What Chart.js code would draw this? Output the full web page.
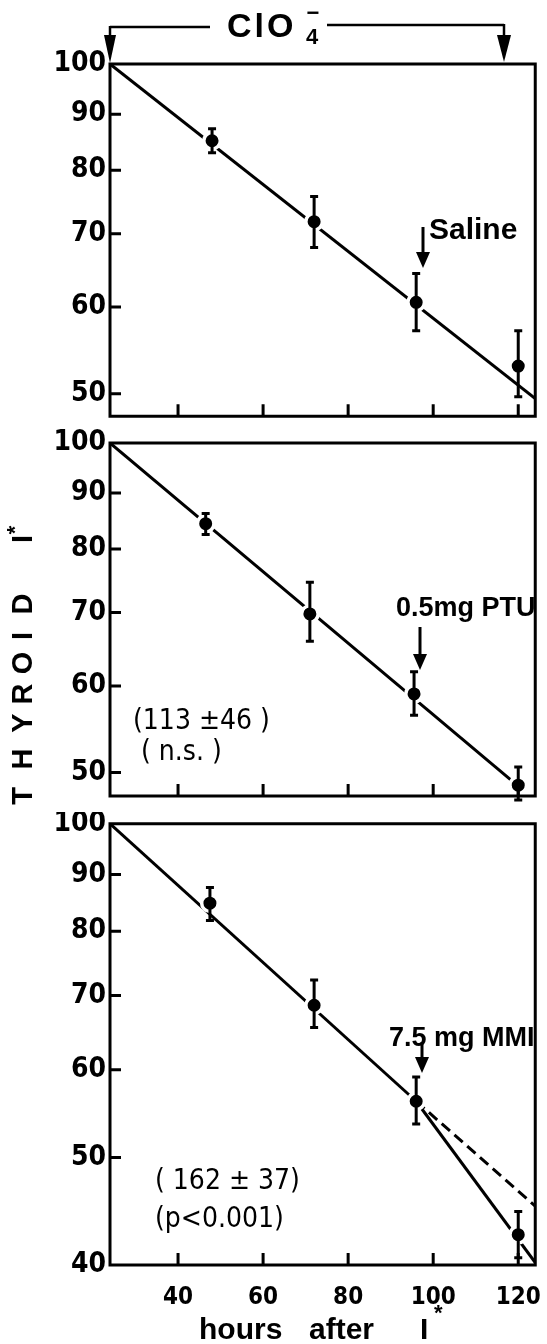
<!DOCTYPE html>
<html>
<head>
<meta charset="utf-8">
<script src="https://cdn.jsdelivr.net/npm/chart.js@4.4.1/dist/chart.umd.min.js"></script>
<style>
body { margin: 0; background: #fff; }
#wrap { position: relative; width: 547px; height: 1344px; }
canvas { position: absolute; left: 0; }
</style>
</head>
<body>
<div id="wrap">
<canvas id="c1" width="547" height="428" style="top:0px"></canvas>
<canvas id="c2" width="547" height="384" style="top:428px"></canvas>
<canvas id="c3" width="547" height="532" style="top:812px"></canvas>
</div>
<script>
// values (thyroid I*, log axis)
const salineHours = [48, 72, 96, 120];
const salineMean = [85.1, 71.8, 60.6, 53.0];
const salineHigh = [87.3, 75.7, 64.4, 57.1];
const salineLow = [83.0, 68.0, 57.1, 49.7];
const salineFitX = [24, 124];
const salineFitY = [100, 49.5];

const ptuHours = [46.5, 71, 95.5, 120];
const ptuMean = [84.4, 69.8, 59.0, 48.7];
const ptuHigh = [86.2, 74.6, 61.8, 50.6];
const ptuLow = [82.5, 65.9, 56.4, 47.2];
const ptuFitX = [24, 120];
const ptuFitY = [100, 48.6];

const mmiHours = [47.5, 72, 96, 120];
const mmiMean = [84.8, 68.6, 56.2, 42.6];
const mmiHigh = [87.6, 72.3, 59.1, 44.7];
const mmiLow = [81.8, 65.5, 53.6, 40.6];
const mmiFitX = [24, 96];
const mmiFitY = [100, 56.2];
const mmiExpectedX = [96, 124];
const mmiExpectedY = [56.2, 45.2];
const mmiAfterX = [96, 124];
const mmiAfterY = [56.2, 40.2];

const yTicksUpper = [50, 60, 70, 80, 90, 100];
const yTicksLower = [40, 50, 60, 70, 80, 90, 100];
const xTicks = [40, 60, 80, 100, 120];

const NARROW = "'Liberation Sans Narrow', 'DejaVu Sans Condensed', 'Liberation Sans', sans-serif";
const SANS = "'Liberation Sans', Arial, sans-serif";

function pts(xs, ys) {
    return xs.map((x, i) => ({ x: x, y: ys[i] }));
}

function arrowDown(ctx, x, y0, y1, headLen, headW) {
    ctx.beginPath();
    ctx.moveTo(x, y0);
    ctx.lineTo(x, y1 - headLen + 2);
    ctx.stroke();
    ctx.beginPath();
    ctx.moveTo(x - headW / 2, y1 - headLen);
    ctx.lineTo(x + headW / 2, y1 - headLen);
    ctx.lineTo(x, y1);
    ctx.closePath();
    ctx.fill();
}

// error bars, frame, inward ticks and the extra drawing of each panel
const panelPlugin = {
    id: 'panel',
    afterDatasetsDraw(chart, args, opts) {
        const ctx = chart.ctx;
        const xs = chart.scales.x, ys = chart.scales.y;
        const a = chart.chartArea;
        ctx.save();
        ctx.strokeStyle = '#000';
        ctx.fillStyle = '#000';
        ctx.lineWidth = 3;
        ctx.lineCap = 'butt';

        // error bars
        opts.hours.forEach((h, i) => {
            const px = xs.getPixelForValue(h);
            const top = ys.getPixelForValue(opts.high[i]);
            const bot = ys.getPixelForValue(opts.low[i]);
            ctx.beginPath();
            ctx.moveTo(px, top); ctx.lineTo(px, bot);
            ctx.moveTo(px - 4, top); ctx.lineTo(px + 4, top);
            ctx.moveTo(px - 4, bot); ctx.lineTo(px + 4, bot);
            ctx.stroke();
        });

        // frame
        ctx.strokeRect(a.left, a.top, a.right - a.left, a.bottom - a.top);

        // ticks pointing inwards
        ctx.beginPath();
        opts.yTicks.forEach(v => {
            const py = ys.getPixelForValue(v);
            if (py > a.top + 2 && py < a.bottom - 2) {
                ctx.moveTo(a.left, py); ctx.lineTo(a.left + 11, py);
            }
        });
        xTicks.forEach(v => {
            const px = xs.getPixelForValue(v);
            ctx.moveTo(px, a.bottom); ctx.lineTo(px, a.bottom - 12);
        });
        ctx.stroke();

        // page coordinates from here on
        ctx.translate(0, -opts.pageTop);
        opts.extra(ctx, xs, ys);
        ctx.restore();
    }
};

function makePanel(canvasId, pageTop, padTop, xAxisH, yMin, yMax, yTicks, showX, datasets, bars, extra) {
    const ctx = document.getElementById(canvasId).getContext('2d');
    return new Chart(ctx, {
        type: 'scatter',
        data: { datasets: datasets },
        options: {
            responsive: false,
            animation: false,
            devicePixelRatio: 1,
            layout: { padding: { top: padTop, right: 3, left: 0, bottom: 0 } },
            plugins: {
                legend: { display: false },
                tooltip: { enabled: false },
                panel: {
                    pageTop: pageTop,
                    hours: bars.hours, high: bars.high, low: bars.low,
                    yTicks: yTicks,
                    extra: extra
                }
            },
            scales: {
                x: {
                    type: 'linear',
                    min: 24,
                    max: 124,
                    grid: { display: false, drawTicks: false },
                    border: { display: false },
                    afterBuildTicks: s => { s.ticks = xTicks.map(v => ({ value: v })); },
                    afterFit: s => {
                        s.height = xAxisH;
                        s.paddingLeft = 0;
                        s.paddingRight = 0;
                    },
                    ticks: {
                        display: showX,
                        autoSkip: false,
                        maxRotation: 0,
                        padding: 18,
                        color: '#000',
                        font: { family: NARROW, size: 24, weight: 'bold' }
                    }
                },
                y: {
                    type: 'logarithmic',
                    min: yMin,
                    max: yMax,
                    grid: { display: false, drawTicks: false },
                    border: { display: false },
                    afterBuildTicks: s => { s.ticks = yTicks.map(v => ({ value: v })); },
                    afterFit: s => {
                        s.width = 110;
                        s.paddingTop = 0;
                        s.paddingBottom = 0;
                    },
                    ticks: {
                        autoSkip: false,
                        padding: 4,
                        color: '#000',
                        callback: v => String(v),
                        font: { family: NARROW, size: 28, weight: 'bold' }
                    }
                }
            }
        },
        plugins: [panelPlugin]
    });
}

function meanSet(xs, ys) {
    return {
        data: pts(xs, ys),
        order: 0,
        pointRadius: 8.25,
        pointBorderWidth: 3.5,
        pointBackgroundColor: '#000',
        pointBorderColor: '#fff',
        showLine: false
    };
}

function fitSet(xs, ys, dash) {
    return {
        data: pts(xs, ys),
        order: 1,
        showLine: true,
        borderColor: '#000',
        borderWidth: 3,
        borderDash: dash || [],
        pointRadius: 0
    };
}

// panel 1: saline
makePanel('c1', 0, 64, 11, 47.7, 100, yTicksUpper, false,
    [meanSet(salineHours, salineMean), fitSet(salineFitX, salineFitY)],
    { hours: salineHours, high: salineHigh, low: salineLow },
    function (ctx) {
        // ClO4- bracket
        ctx.lineWidth = 2.5;
        ctx.beginPath();
        ctx.moveTo(110, 27); ctx.lineTo(210, 27);
        ctx.moveTo(327, 25); ctx.lineTo(504, 25);
        ctx.stroke();
        arrowDown(ctx, 110, 26, 63, 28, 12);
        arrowDown(ctx, 504, 24, 62, 27, 14);
        ctx.textBaseline = 'alphabetic';
        ctx.textAlign = 'left';
        ctx.font = 'bold 34px ' + SANS;
        ctx.letterSpacing = '3px';
        ctx.fillText('ClO', 227, 37);
        ctx.letterSpacing = '0px';
        ctx.font = 'bold 22px ' + SANS;
        ctx.fillText('4', 306, 44);
        ctx.textAlign = 'center';
        ctx.textBaseline = 'middle';
        ctx.fillText('\u2212', 313, 14);

        ctx.textAlign = 'left';
        ctx.font = 'bold 30px ' + SANS;
        ctx.fillText('Saline', 429, 231);
        ctx.lineWidth = 3;
        arrowDown(ctx, 423, 227, 268, 16, 14);
    });

// panel 2: PTU
makePanel('c2', 428, 15, 16, 47.6, 100, yTicksUpper, false,
    [meanSet(ptuHours, ptuMean), fitSet(ptuFitX, ptuFitY)],
    { hours: ptuHours, high: ptuHigh, low: ptuLow },
    function (ctx) {
        ctx.textBaseline = 'middle';
        ctx.textAlign = 'left';
        ctx.font = 'bold 27px ' + SANS;
        ctx.fillText('0.5mg PTU', 396, 609);
        ctx.lineWidth = 3;
        arrowDown(ctx, 420, 627, 670, 16, 14);

        ctx.font = '28px ' + NARROW;
        ctx.fillText('(113 \u00b146 )', 133, 722);
        ctx.fillText('( n.s. )', 141, 753);

        // y axis title, letter by letter, reading upwards
        const title = [['T', 796], ['H', 759], ['Y', 723], ['R', 694], ['O', 663], ['I', 636], ['D', 604], ['I', 539]];
        ctx.font = 'bold 29px ' + SANS;
        ctx.textAlign = 'center';
        title.forEach(([ch, yc]) => {
            ctx.save();
            ctx.translate(24, yc);
            ctx.rotate(-Math.PI / 2);
            ctx.fillText(ch, 0, 0);
            if (yc === 539) {
                ctx.font = 'bold 22px ' + SANS;
                ctx.fillText('*', 9, -8);
            }
            ctx.restore();
        });
    });

// panel 3: MMI
makePanel('c3', 812, 11, 79, 40, 100, yTicksLower, true,
    [meanSet(mmiHours, mmiMean), fitSet(mmiFitX, mmiFitY), fitSet(mmiExpectedX, mmiExpectedY, [11, 6]), fitSet(mmiAfterX, mmiAfterY)],
    { hours: mmiHours, high: mmiHigh, low: mmiLow },
    function (ctx) {
        ctx.textBaseline = 'middle';
        ctx.textAlign = 'left';
        ctx.font = 'bold 27px ' + SANS;
        ctx.fillText('7.5 mg MMI', 389, 1039);
        ctx.lineWidth = 3;
        arrowDown(ctx, 422, 1042, 1073, 16, 14);

        ctx.font = '28px ' + NARROW;
        ctx.fillText('( 162 \u00b1 37)', 155, 1182);
        ctx.fillText('(p<0.001)', 155, 1220);

        ctx.font = 'bold 30px ' + SANS;
        ctx.fillText('hours', 199, 1331);
        ctx.fillText('after', 309, 1331);
        ctx.fillText('I', 420, 1331);
        ctx.font = 'bold 22px ' + SANS;
        ctx.fillText('*', 434, 1314);
    });
</script>
</body>
</html>
